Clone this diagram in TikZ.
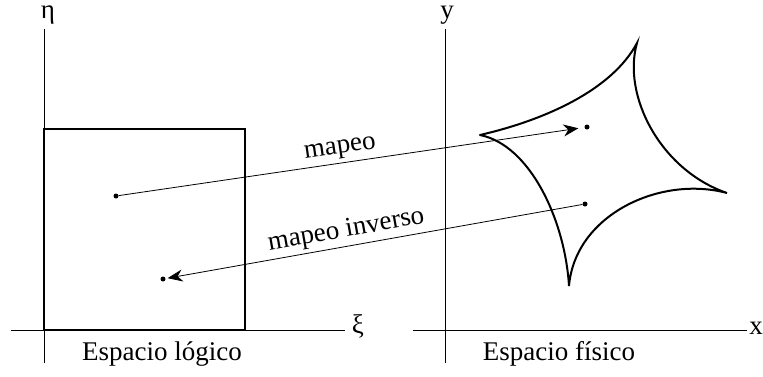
\documentclass[tikz,border=0pt]{standalone}
\usepackage{fontspec}
\setmainfont{Liberation Serif}
\usetikzlibrary{arrows.meta}
\begin{document}
\begin{tikzpicture}[x=1pt,y=-1pt,every node/.style={font=\fontsize{27}{30}\selectfont},
  axis/.style={line width=0.8pt},
  axlabel/.style={inner sep=0pt},
  dotpt/.style={circle,fill,inner sep=0pt,minimum size=5pt},
  map/.style={line width=0.8pt,-{Stealth[length=15pt,width=12pt]}}]
  \useasboundingbox (0,0) rectangle (763,376);
  % espacio logico
  \coordinate (lb) at (44,363); \coordinate (lt) at (44,29);
  \coordinate (ll) at (11,330); \coordinate (lr) at (345,330);
  \draw[axis] (lb) -- (lt); \draw[axis] (ll) -- (lr);
  \node[axlabel] (eta) at (48,15) {η};
  \node[axlabel] (xi) at (358,326) {ξ};
  \draw[line width=2pt] (44,129) rectangle (245,330);
  \node (lname) at (162,354) {Espacio lógico};
  % espacio fisico
  \coordinate (fb) at (445,363); \coordinate (ft) at (445,29);
  \coordinate (fl) at (413,330); \coordinate (fr) at (747,330);
  \draw[axis] (fb) -- (ft); \draw[axis] (fl) -- (fr);
  \node[axlabel] (yl) at (447,15) {y};
  \node[axlabel] (xl) at (756,328) {x};
  \node (fname) at (559,354) {Espacio físico};
  \coordinate (cl) at (480,135); \coordinate (ct) at (637,43);
  \coordinate (cr) at (727,193); \coordinate (cb) at (569,286);
  \draw[line width=2pt,line cap=round]
    (cl) .. controls (545,120) and (612,90) .. (ct)
    .. controls (622,95) and (660,170) .. (cr)
    .. controls (660,175) and (575,215) .. (cb)
    .. controls (565,220) and (530,145) .. (cl);
  % puntos y mapeos
  \node[dotpt] (p1) at (116,196) {};
  \node[dotpt] (q1) at (587,127) {};
  \node[dotpt] (q2) at (585,204) {};
  \node[dotpt] (p2) at (163,279) {};
  \draw[map,shorten >=6pt] (p1) -- node[sloped,above,pos=0.48] {mapeo} (q1);
  \draw[map,shorten >=2pt] (q2) -- (p2) node[sloped,above,pos=0.56] {mapeo inverso};
\end{tikzpicture}
\end{document}
